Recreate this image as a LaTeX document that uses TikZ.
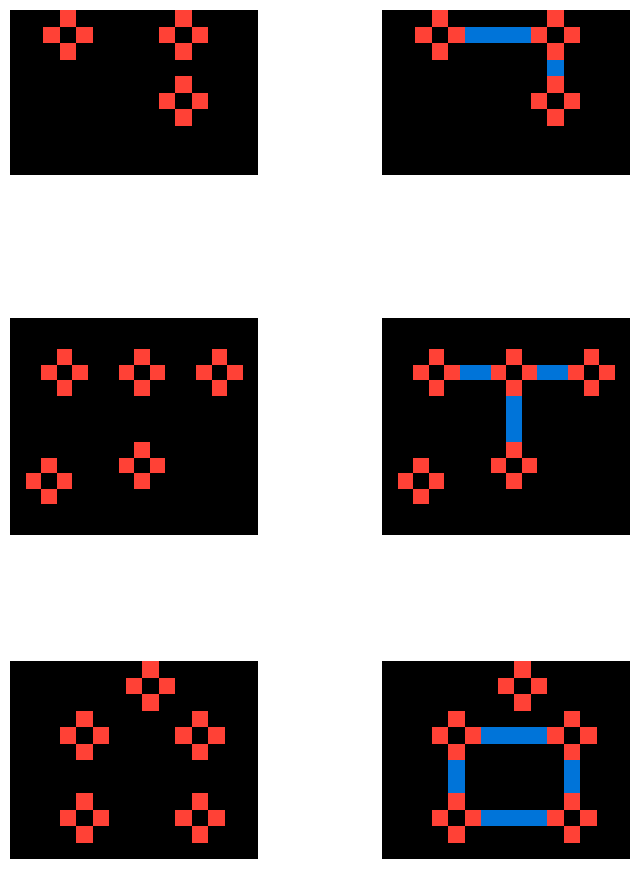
\documentclass[tikz,border=0pt]{standalone}
\usepackage{xcolor}
\definecolor{ArcRed}{HTML}{FF4136}
\definecolor{ArcBlue}{HTML}{0074D9}
\tikzset{
    board/.style={fill=black},
    redcell/.style={fill=ArcRed},
    bluecell/.style={fill=ArcBlue},
    cellsA/.style={x=0.496cm, y=-0.495cm},
    cellsB/.style={x=0.465cm, y=-0.465cm}
}
% plus shape around an empty centre cell (col, row)
\newcommand{\plusat}[2]{%
    \foreach \dx/\dy in {0/-1,-1/0,1/0,0/1}
        \fill[redcell] ({#1+\dx},{#2+\dy}) rectangle ++(1,1);
}
% blue run of cells from (c1,r1) to (c2,r2)
\newcommand{\bluerun}[4]{%
    \fill[bluecell] (#1,#2) rectangle ({#3+1},{#4+1});
}

\begin{document}
\begin{tikzpicture}[x=0.03cm, y=-0.03cm]
        \useasboundingbox[fill=white] (0,0) rectangle (639,869);

        % Pair 1 input
        \begin{scope}[shift={(10,10)}, cellsA]
            \fill[board] (0,0) rectangle (15,10);
            \plusat{3}{1}
            \plusat{10}{1}
            \plusat{10}{5}
        \end{scope}
        % Pair 1 output
        \begin{scope}[shift={(382,10)}, cellsA]
            \fill[board] (0,0) rectangle (15,10);
            \plusat{3}{1}
            \plusat{10}{1}
            \plusat{10}{5}
            \bluerun{5}{1}{8}{1}
            \bluerun{10}{3}{10}{3}
        \end{scope}

        % Pair 2 input
        \begin{scope}[shift={(10,318)}, cellsB]
            \fill[board] (0,0) rectangle (16,14);
            \foreach \cx/\cy in {3/3, 8/3, 13/3, 2/10, 8/9}
                {\plusat{\cx}{\cy}}
        \end{scope}
        % Pair 2 output
        \begin{scope}[shift={(382,318)}, cellsB]
            \fill[board] (0,0) rectangle (16,14);
            \foreach \cx/\cy in {3/3, 8/3, 13/3, 2/10, 8/9}
                {\plusat{\cx}{\cy}}
            \bluerun{5}{3}{6}{3}
            \bluerun{10}{3}{11}{3}
            \bluerun{8}{5}{8}{7}
        \end{scope}

        % Pair 3 input
        \begin{scope}[shift={(10,661)}, cellsA]
            \fill[board] (0,0) rectangle (15,12);
            \foreach \cx/\cy in {8/1, 4/4, 11/4, 4/9, 11/9}
                {\plusat{\cx}{\cy}}
        \end{scope}
        % Pair 3 output
        \begin{scope}[shift={(382,661)}, cellsA]
            \fill[board] (0,0) rectangle (15,12);
            \foreach \cx/\cy in {8/1, 4/4, 11/4, 4/9, 11/9}
                {\plusat{\cx}{\cy}}
            \bluerun{6}{4}{9}{4}
            \bluerun{6}{9}{9}{9}
            \bluerun{4}{6}{4}{7}
            \bluerun{11}{6}{11}{7}
        \end{scope}
    \end{tikzpicture}
\end{document}
